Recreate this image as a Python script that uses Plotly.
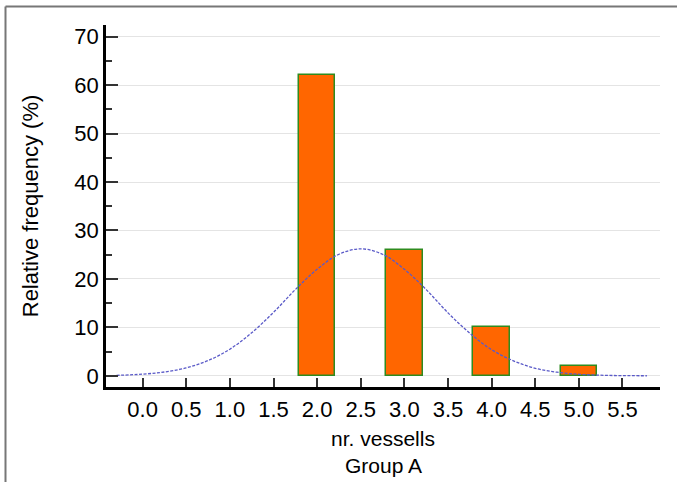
import plotly.graph_objects as go

# Histogram data (relative frequency, %)
categories = [2, 3, 4, 5]
rel_freq = [62, 26, 10, 2]

# Fitted normal curve
curve_x = [-0.3, 0.0, 0.25, 0.5, 0.75, 1.0, 1.25, 1.5, 1.75, 2.0, 2.25, 2.5,
           2.75, 3.0, 3.25, 3.5, 3.75, 4.0, 4.25, 4.5, 4.75, 5.0, 5.25, 5.5, 5.78]
curve_y = [0.1, 0.35, 0.8, 1.65, 3.15, 5.5, 8.9, 13.1, 17.8, 22.0, 25.1, 26.2,
           25.1, 22.0, 17.8, 13.0, 8.8, 5.4, 3.1, 1.55, 0.75, 0.32, 0.13, 0.05, 0.02]

x_tickvals = [0.0, 0.5, 1.0, 1.5, 2.0, 2.5, 3.0, 3.5, 4.0, 4.5, 5.0, 5.5]
x_ticktext = ["0.0", "0.5", "1.0", "1.5", "2.0", "2.5", "3.0", "3.5", "4.0", "4.5", "5.0", "5.5"]
y_tickvals = [0, 10, 20, 30, 40, 50, 60, 70]

FONT = "Arial, 'Liberation Sans', sans-serif"

fig = go.Figure()
fig.add_trace(go.Bar(
    x=categories, y=rel_freq, width=0.42,
    marker=dict(color="#FF6600", line=dict(color="#2E8B1F", width=1.5)),
    showlegend=False,
))
fig.add_trace(go.Scatter(
    x=curve_x, y=curve_y, mode="lines", line_shape="spline",
    line=dict(color="#5A5AC8", width=1.3, dash="3px,1.5px"),
    showlegend=False,
))

L, R, T, B = 106, 17, 25, 95
W, H = 677, 482
pw, ph = W - L - R, H - T - B

def px_x(px):
    return (px - L) / pw

def px_y(py):
    return (H - B - py) / ph

fig.update_layout(
    width=W, height=H,
    margin=dict(l=L, r=R, t=T, b=B, autoexpand=False),
    paper_bgcolor="white", plot_bgcolor="white",
    font=dict(family=FONT, size=22, color="black"),
    bargap=0,
    shapes=[
        dict(type="line", xref="paper", yref="paper",
             x0=px_x(5.5), x1=px_x(5.5), y0=px_y(6.5), y1=px_y(482),
             line=dict(color="#777777", width=2)),
        dict(type="line", xref="paper", yref="paper",
             x0=px_x(5.5), x1=px_x(677), y0=px_y(6.5), y1=px_y(6.5),
             line=dict(color="#777777", width=2)),
    ],
    annotations=[
        dict(text="Group A", xref="paper", yref="paper", x=0.5, y=px_y(465),
             xanchor="center", yanchor="middle", showarrow=False,
             font=dict(size=21, family=FONT, color="black")),
    ],
)

fig.update_xaxes(
    range=[-0.42, 5.93],
    tickvals=x_tickvals, ticktext=x_ticktext,
    ticks="inside", ticklen=9, tickwidth=2, tickcolor="#333333",
    showline=True, linecolor="black", linewidth=2.5,
    showgrid=False, zeroline=False,
    tickfont=dict(size=22), ticklabelstandoff=1,
    title=dict(text="nr. vessells", font=dict(size=21), standoff=11),
)
fig.update_yaxes(
    range=[-2.3, 72.4],
    tickvals=y_tickvals,
    ticks="inside", ticklen=12, tickwidth=2, tickcolor="#333333",
    minor=dict(ticks="inside", ticklen=6, tickwidth=1.5, tickcolor="#333333",
               dtick=5, showgrid=False),
    showline=True, linecolor="black", linewidth=2.5,
    showgrid=True, gridcolor="#E4E4E4", gridwidth=1,
    zeroline=False,
    tickfont=dict(size=22),
    title=dict(text="Relative frequency (%)", font=dict(size=22), standoff=30),
)

fig.write_html("out.html", config={"displayModeBar": False},
               post_script="document.body.style.margin='0';")
